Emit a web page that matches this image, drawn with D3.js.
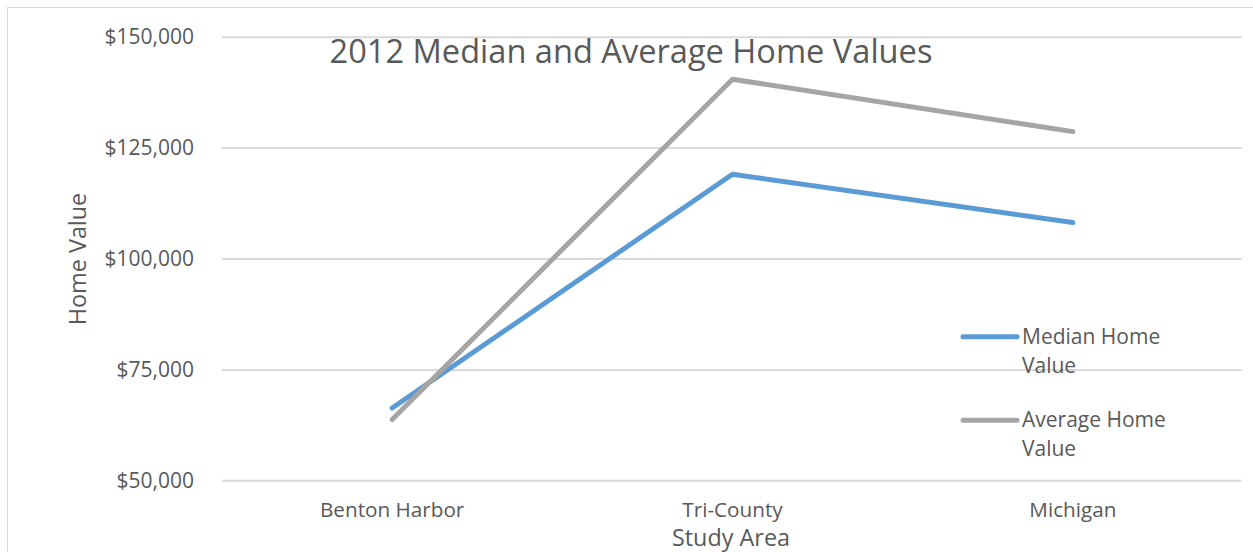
<!DOCTYPE html>
<html>
<head>
<meta charset="utf-8">
<script src="https://cdn.jsdelivr.net/npm/d3@7"></script>
<style>
  body { margin: 0; background: #fff; }
  svg text { font-family: "Open Sans", sans-serif; fill: #595959; }
</style>
</head>
<body>
<div class="chart"></div>
<script>
// Values
const categories = ["Benton Harbor", "Tri-County", "Michigan"]
const medianValues = [66300, 119000, 108100]
const averageValues = [63700, 140400, 128600]
const yTicks = [50000, 75000, 100000, 125000, 150000]
const seriesNames = ["Median Home Value", "Average Home Value"]

const W = 1253, H = 552
const plot = {left: 222, right: 1243, top: 36.7, bottom: 480.3}

const svg = d3.select(".chart").append("svg")
    .attr("width", W)
    .attr("height", H)

// chart frame (runs off right / bottom edge)
svg.append("rect")
    .attr("x", 7.5).attr("y", 7.5)
    .attr("width", W + 20).attr("height", H + 20)
    .attr("fill", "none")
    .attr("stroke", "#d9d9d9")

const x = d3.scaleBand()
    .domain(categories)
    .range([plot.left, plot.right])

const y = d3.scaleLinear()
    .domain([50000, 150000])
    .range([plot.bottom, plot.top])

// gridlines + y labels
const yAxis = d3.axisLeft(y)
    .tickValues(yTicks)
    .tickSize(-(plot.right - 1.5 - plot.left))
    .tickPadding(28)
    .tickFormat(d => "$" + d3.format(",")(d))

svg.append("g")
    .attr("transform", "translate(" + plot.left + ",0)")
    .call(yAxis)
    .call(g => g.select(".domain").remove())
    .call(g => g.selectAll("line").attr("stroke", "#d9d9d9").attr("stroke-width", 2))
    .call(g => g.selectAll("text").style("font-size", "21px").attr("fill", "#595959"))

// x labels
const xAxis = d3.axisBottom(x).tickSize(0).tickPadding(22)
svg.append("g")
    .attr("transform", "translate(0," + plot.bottom + ")")
    .call(xAxis)
    .call(g => g.select(".domain").remove())
    .call(g => g.selectAll("text").style("font-size", "20.7px").attr("fill", "#595959"))

const color = d3.scaleOrdinal()
    .domain(seriesNames)
    .range(["#5b9bd5", "#a5a5a5"])

const series = [
    {name: seriesNames[0], values: medianValues},
    {name: seriesNames[1], values: averageValues}
]

const line = d3.line()
    .x((d, i) => x(categories[i]) + x.bandwidth() / 2)
    .y(d => y(d))

svg.selectAll(".series")
    .data(series)
    .enter().append("path")
    .attr("class", "series")
    .attr("d", d => line(d.values))
    .attr("fill", "none")
    .attr("stroke", d => color(d.name))
    .attr("stroke-width", 5)
    .attr("stroke-linecap", "round")
    .attr("stroke-linejoin", "round")

// title
svg.append("text")
    .attr("x", 631)
    .attr("y", 63)
    .attr("text-anchor", "middle")
    .style("font-size", "32.6px")
    .text("2012 Median and Average Home Values")

// axis titles
svg.append("text")
    .attr("transform", "translate(86,259) rotate(-90)")
    .attr("text-anchor", "middle")
    .style("font-size", "23.4px")
    .text("Home Value")

svg.append("text")
    .attr("x", 731)
    .attr("y", 546)
    .attr("text-anchor", "middle")
    .style("font-size", "23.4px")
    .text("Study Area")

// legend
const legend = svg.selectAll(".legend")
    .data(seriesNames)
    .enter().append("g")
    .attr("class", "legend")
    .attr("transform", (d, i) => "translate(963," + (336.7 + i * 83.5) + ")")

legend.append("line")
    .attr("x1", 0).attr("x2", 54)
    .attr("stroke", d => color(d))
    .attr("stroke-width", 5)
    .attr("stroke-linecap", "round")

legend.append("text")
    .attr("x", 59)
    .attr("y", 7)
    .style("font-size", "21px")
    .each(function(d) {
        const words = d.split(" ")
        const t = d3.select(this)
        t.append("tspan").attr("x", 59).text(words.slice(0, 2).join(" "))
        t.append("tspan").attr("x", 59).attr("dy", 29).text(words.slice(2).join(" "))
    })
</script>
</body>
</html>
